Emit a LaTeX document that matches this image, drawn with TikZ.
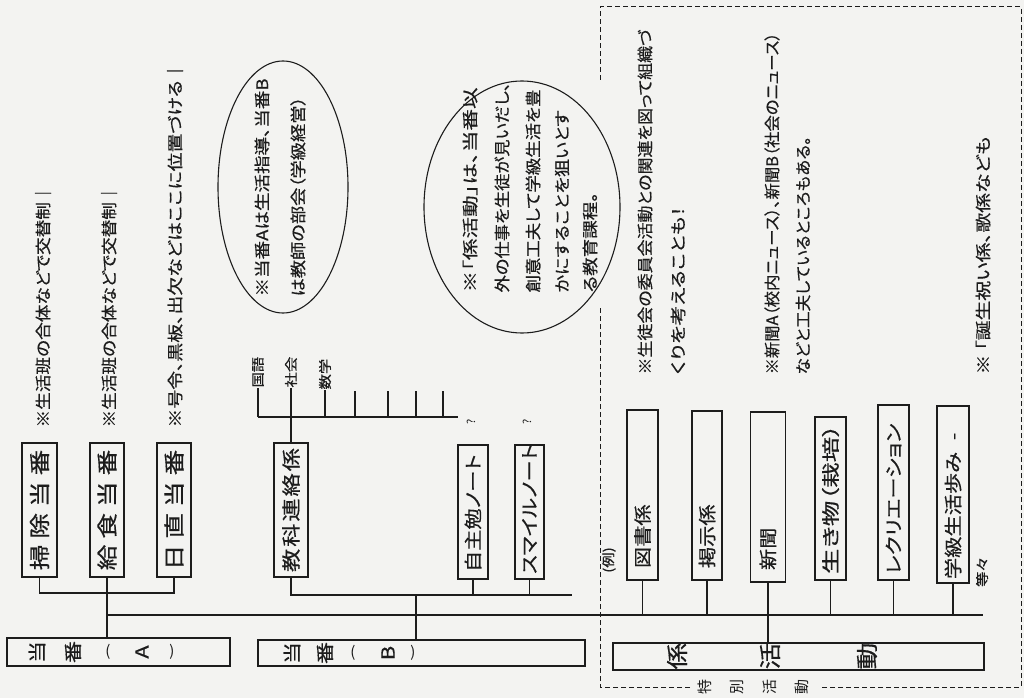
\documentclass[tikz,border=0pt]{standalone}
\usepackage{fontspec}
\usepackage{graphicx}
\usetikzlibrary{shapes.geometric}
\setmainfont{Noto Sans CJK JP}[RawFeature=+palt]
\newfontfamily\fa{Noto Sans CJK JP}[FakeStretch=1.18,FakeBold=0.5,RawFeature=+palt]
\newfontfamily\fc{Noto Sans CJK JP}[FakeStretch=1.22,FakeBold=0.5]
\newcommand{\fitw}[2]{\resizebox{#1pt}{\height}{#2}}
\definecolor{bg}{RGB}{243,243,241}
\definecolor{ink}{RGB}{28,28,28}
\begin{document}
\begin{tikzpicture}[x=1pt,y=-1pt,line width=1.1pt,color=ink,
  bx/.style={draw,line width=1.2pt,inner sep=0pt},
  vt/.style={rotate=90,inner sep=0pt},
  note/.style={vt,anchor=west,font=\fa\fontsize{16}{16}\selectfont},
  item/.style={vt,anchor=west,font=\fa\fontsize{18}{18}\selectfont},
  big/.style={vt,font=\fc\fontsize{21}{21}\selectfont},
  hz/.style={vt,font=\fc\fontsize{18}{18}\selectfont},
  par/.style={inner sep=0pt,font=\fontsize{15}{15}\selectfont},
  small/.style={vt,anchor=west,font=\fa\fontsize{13}{13}\selectfont},
  dsh/.style={dash pattern=on 5pt off 3pt,line width=1pt},
  ov/.style={draw,ellipse,line width=1.1pt,fill=bg,inner sep=0pt}]
\fill[bg] (0,0) rectangle (1024,698);
\useasboundingbox (0,0) rectangle (1024,698);

% ---------- dashed frame ----------
\draw[dsh] (600,80) -- (600,7) -- (1021,7) -- (1021,687) -- (820,687);
\draw[dsh] (690,687) -- (600,687) -- (600,307);

% ---------- left group (当番A) ----------
\node[note] (n1) at (43,428) {\fitw{243}{※生活班の合体などで交替制｜}};
\node[note] (n2) at (109,428) {\fitw{243}{※生活班の合体などで交替制｜}};
\node[note] (n3) at (175,428) {\fitw{366}{※号令、黒板、出欠などはここに位置づける｜}};

\node[bx,minimum width=35pt,minimum height=134pt] (so) at (39.5,510) {};
\node[bx,minimum width=34pt,minimum height=134pt] (kyu) at (107,510) {};
\node[bx,minimum width=34pt,minimum height=134pt] (nic) at (174,510) {};
\node[big] at (so) {掃\kern6pt 除\kern6pt 当\kern6pt 番};
\node[big] at (kyu) {給\kern6pt 食\kern6pt 当\kern6pt 番};
\node[big] at (nic) {日\kern6pt 直\kern6pt 当\kern6pt 番};

\node[bx,minimum width=223pt,minimum height=28pt] (tA) at (118.5,652) {};
\node[hz] at (37,652) {当};
\node[hz] at (73,652) {番};
\node[par] at (108,652) {(};
\node[hz] at (142,652) {A};
\node[par] at (172,652) {)};

\coordinate (jA) at (107,593);
\draw (so.south) |- (jA) -| (nic.south);
\draw (kyu.south) -- (kyu.south |- tA.north);

% trunk
\coordinate (trL) at (107,615);
\coordinate (trR) at (983,615);
\draw (trL) -- (trR);

% ---------- ellipse 1 ----------
\node[ov,minimum width=130pt,minimum height=252pt] (e1) at (283,187) {};
\node[note] at (262,297) {\fitw{218}{※当番Aは生活指導、当番B}};
\node[note] at (298,297) {\fitw{200}{は教師の部会（学級経営）}};

% ---------- 当番B group ----------
\node[bx,minimum width=34pt,minimum height=134pt] (kr) at (291,510) {};
\node[vt,font=\fc\fontsize{19}{19}\selectfont] at (kr) {教\kern2pt 科\kern2pt 連\kern2pt 絡\kern2pt 係};
\node[bx,minimum width=30pt,minimum height=134pt] (js) at (473,512) {};
\node[bx,minimum width=29pt,minimum height=134pt] (sm) at (529.5,512) {};
\node[item] at ([yshift=7pt]js.south) {自主勉ノート};
\node[item] at ([yshift=5pt]sm.south) {スマイルノート};
\node[vt,font=\fontsize{11}{11}\selectfont] (q1) at (471,422) {?};
\node[vt,font=\fontsize{11}{11}\selectfont] (q2) at (527,422) {?};

% subjects tree
\node[small] (kokugo) at (258,388) {国語};
\node[small] (shakai) at (291,388) {社会};
\node[small] (sugaku) at (325,390) {数学};
\coordinate (s1) at (258,417);
\coordinate (s2) at (291,417);
\coordinate (s3) at (325,417);
\coordinate (sE) at (458,417);
\draw (s1) -- (sE);
\draw (s1) -- (kokugo);
\draw (kr.north) -- (s2) -- (shakai);
\draw (s3) -- (sugaku);
\foreach \t in {355,388,416,443}{\draw (\t,417) -- (\t,391);}

\coordinate (bE) at (572,595);
\draw (kr.south) |- (bE);
\draw (js.south) -- (js.south |- bE);
\draw (sm.south) -- (sm.south |- bE);

\node[bx,minimum width=327pt,minimum height=26pt] (tB) at (421.5,653) {};
\coordinate (jB) at (416,595);
\draw (jB) -- (jB |- tB.north);
\node[hz] at (292,653) {当};
\node[hz] at (325,653) {番};
\node[par] at (353,653) {(};
\node[hz] at (388,653) {B};
\node[par] at (413,653) {)};

% ---------- ellipse 2 ----------
\node[ov,minimum width=196pt,minimum height=252pt] (e2) at (522,207) {};
\node[note] at (470,293) {\fitw{205}{※「係活動」は、当番以}};
\node[note] at (502,293) {\fitw{210}{外の仕事を生徒が見いだし、}};
\node[note] at (533,293) {\fitw{203}{創意工夫して学級生活を豊}};
\node[note] at (562,293) {\fitw{182}{かにすることを狙いとす}};
\node[note] at (590,293) {\fitw{100}{る教育課程。}};

% ---------- right notes ----------
\node[note] at (645,375) {\fitw{345}{※生徒会の委員会活動との関連を図って組織づ}};
\node[note] at (678,375) {\fitw{168}{くりを考えることも！}};
\node[note] at (772,375) {\fitw{342}{※新聞A（校内ニュース）、新聞B（社会のニュース）}};
\node[note] at (803,375) {\fitw{238}{などと工夫しているところもある。}};
\node[note] at (983,375) {\fitw{238}{※ 「誕生祝い係、歌係なども}};

% ---------- 係活動 ----------
\node[small,anchor=center] (rei) at (609,560) {(例)};
\node[bx,minimum width=31pt,minimum height=170pt] (zu) at (642.5,495) {};
\node[bx,minimum width=30pt,minimum height=169pt] (kj) at (707,495.5) {};
\node[bx,minimum width=35pt,minimum height=170pt] (sb) at (768,497) {};
\node[bx,minimum width=31pt,minimum height=163pt] (ik) at (830.5,498.5) {};
\node[bx,minimum width=31pt,minimum height=175pt] (rc) at (893.5,492.5) {};
\node[bx,minimum width=32pt,minimum height=177pt] (gk) at (953,494.5) {};
\node[item] at ([yshift=12pt]zu.south) {図書係};
\node[item] at ([yshift=12pt]kj.south) {掲示係};
\node[item] at ([yshift=12pt]sb.south) {新聞};
\node[item] at ([yshift=6pt]ik.south) {\fitw{150}{生き物（栽培）}};
\node[item] at ([yshift=6pt]rc.south) {レクリエーション};
\node[item] at ([yshift=4pt]gk.south) {学級生活歩み\hspace{12pt}-};
\node[small,anchor=center] (tt) at (982,572) {等々};

\node[bx,minimum width=371pt,minimum height=27pt] (kk) at (798.5,656.5) {};
\foreach \b in {zu,kj,ik,rc,gk}{\draw (\b.south) -- (\b.south |- trR);}
\draw (sb.south) -- (sb.south |- kk.north);
\node[vt,font=\fc\fontsize{22}{22}\selectfont] at (677,656) {係};
\node[vt,font=\fc\fontsize{22}{22}\selectfont] at (770,656) {活};
\node[vt,font=\fc\fontsize{22}{22}\selectfont] at (867,656) {動};

\node[vt,font=\fontsize{15}{15}\selectfont] at (705,687) {特};
\node[vt,font=\fontsize{15}{15}\selectfont] at (737,687) {別};
\node[vt,font=\fontsize{15}{15}\selectfont] at (770,687) {活};
\node[vt,font=\fontsize{15}{15}\selectfont] at (802,687) {動};
\end{tikzpicture}
\end{document}
